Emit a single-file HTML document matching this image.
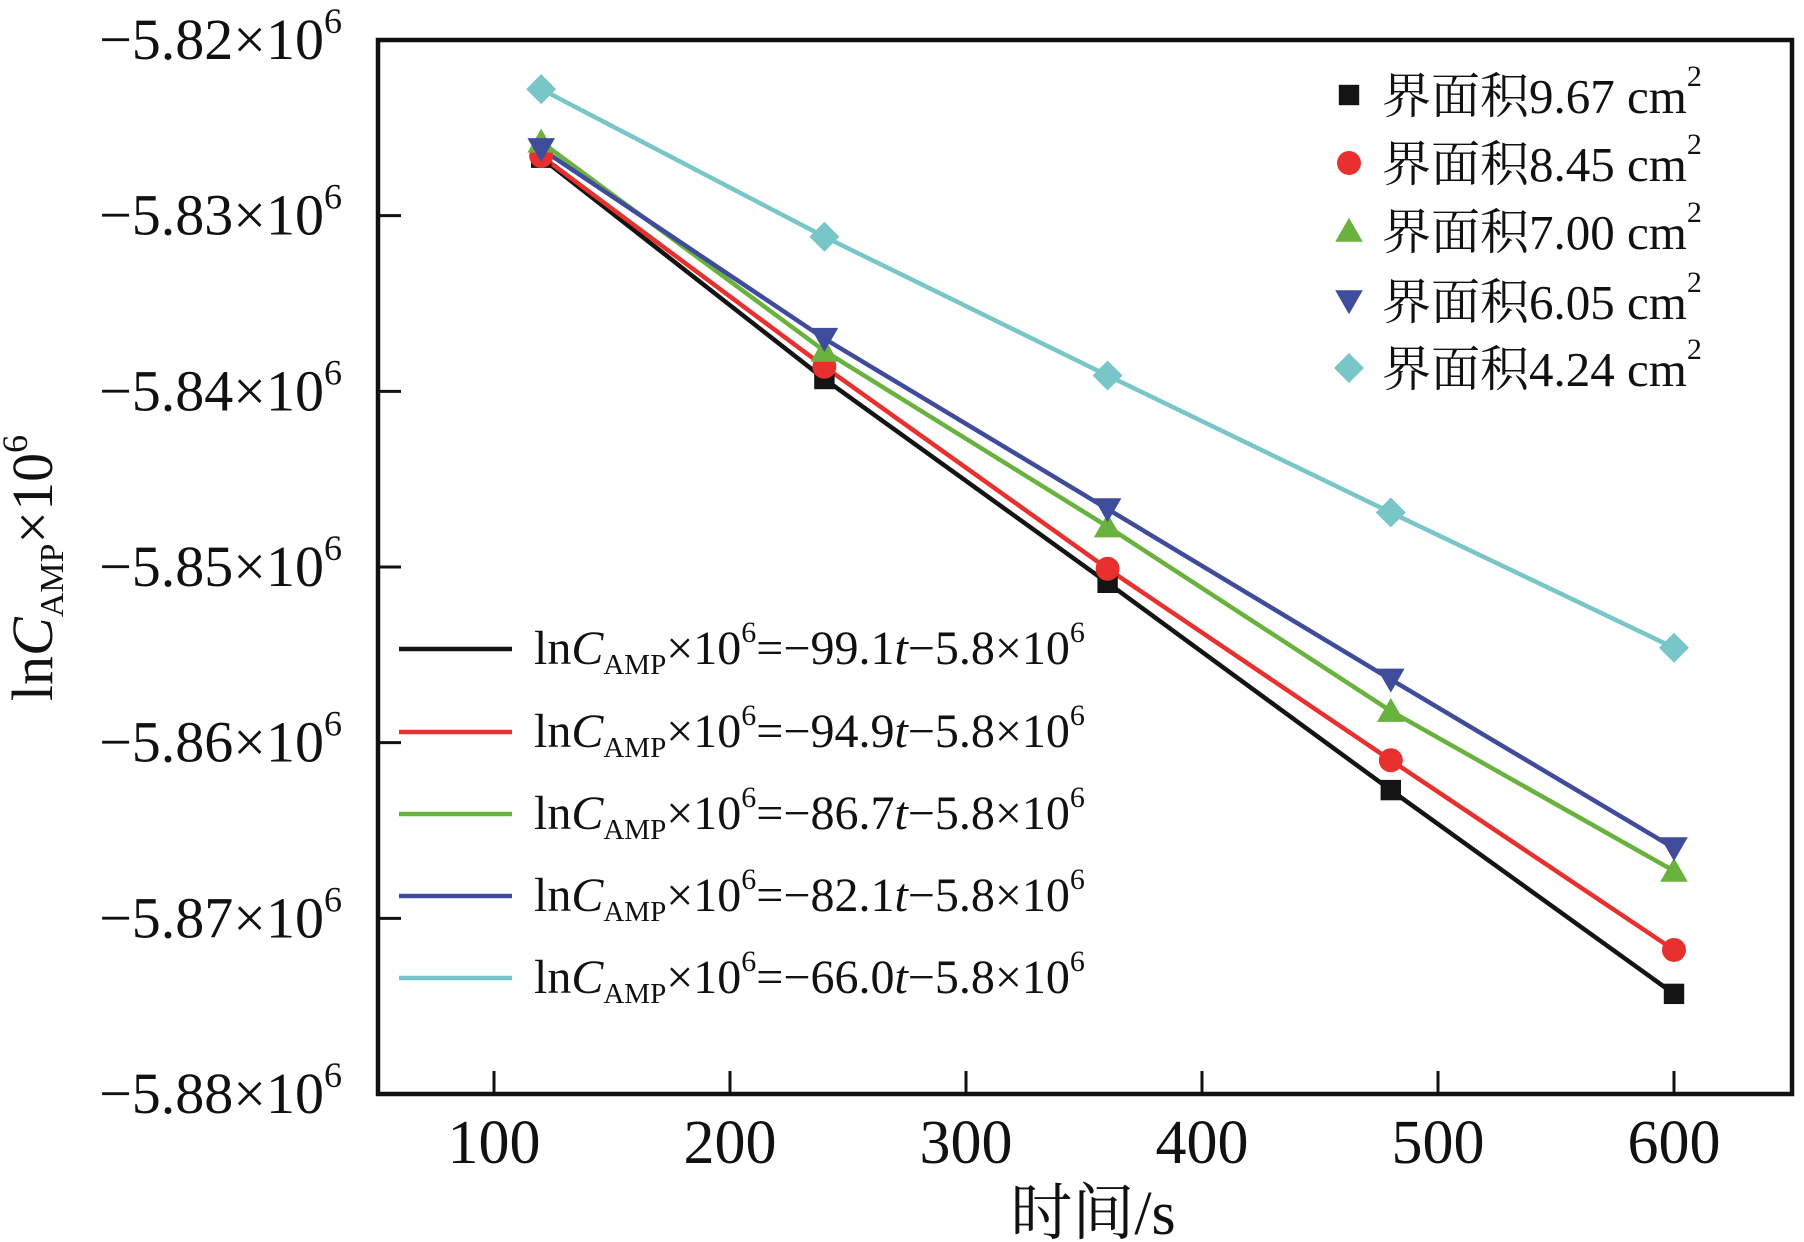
<!DOCTYPE html>
<html><head><meta charset="utf-8"><style>
html,body{margin:0;padding:0;background:#fff;}
svg{display:block;}
text{font-family:"Liberation Serif","Noto Serif CJK SC",serif;fill:#111;}
</style></head><body>
<svg id="chart" width="1804" height="1242" viewBox="0 0 1804 1242" xmlns="http://www.w3.org/2000/svg">
<g id="plot"></g>
</svg>
<script>
const times = [120, 240, 360, 480, 600];
const seriesNames = ["界面积9.67 cm", "界面积8.45 cm", "界面积7.00 cm", "界面积6.05 cm", "界面积4.24 cm"];
const s967 = [-5.8267, -5.8393, -5.8509, -5.8627, -5.8743];
const s845 = [-5.8266, -5.8386, -5.8501, -5.8610, -5.8718];
const s700 = [-5.8258, -5.8377, -5.8477, -5.8582, -5.8673];
const s605 = [-5.8262, -5.8370, -5.8467, -5.8564, -5.8660];
const s424 = [-5.8228, -5.8312, -5.8391, -5.8469, -5.8546];
const slopes = ["99.1", "94.9", "86.7", "82.1", "66.0"];
const xTicks = [100, 200, 300, 400, 500, 600];
const yTicks = [-5.82, -5.83, -5.84, -5.85, -5.86, -5.87, -5.88];

const NS = "http://www.w3.org/2000/svg";
const svg = document.getElementById("plot");
const L = 378, R = 1792, T = 40, B = 1094;
function xs(v){ return 494 + (v - 100) * 2.36; }
function ys(v){ return T + (-5.82 - v) / 0.06 * (B - T); }
function mk(tag, attrs){ const e = document.createElementNS(NS, tag); for (const k in attrs) e.setAttribute(k, attrs[k]); svg.appendChild(e); return e; }

const colors = ["#141414", "#e8312f", "#6ab23e", "#3f4b9b", "#79c6c8"];
const allSeries = [s967, s845, s700, s605, s424];
const shapes = ["square", "circle", "up", "down", "diamond"];

function marker(shape, cx, cy, color, r){
  let e;
  if (shape === "square") e = mk("rect", {x: cx - r*0.85, y: cy - r*0.85, width: r*1.7, height: r*1.7, fill: color});
  else if (shape === "circle") e = mk("circle", {cx: cx, cy: cy, r: r, fill: color});
  else if (shape === "up") e = mk("polygon", {points: `${cx},${cy - r*1.1} ${cx - r*1.15},${cy + r*0.9} ${cx + r*1.15},${cy + r*0.9}`, fill: color});
  else if (shape === "down") e = mk("polygon", {points: `${cx},${cy + r*1.1} ${cx - r*1.15},${cy - r*0.9} ${cx + r*1.15},${cy - r*0.9}`, fill: color});
  else e = mk("polygon", {points: `${cx},${cy - r*1.25} ${cx + r*1.25},${cy} ${cx},${cy + r*1.25} ${cx - r*1.25},${cy}`, fill: color});
  return e;
}

allSeries.forEach((vals, i) => {
  const pts = vals.map((v, j) => xs(times[j]) + "," + ys(v)).join(" ");
  const pl = mk("polyline", {points: pts, fill: "none", stroke: colors[i], "stroke-width": 4.5});
  
  
});
allSeries.forEach((vals, i) => {
  vals.forEach((v, j) => {
    const m = marker(shapes[i], xs(times[j]), ys(v), colors[i], 12);
    
    
  });
});

const fr = mk("rect", {x: L, y: T, width: R - L, height: B - T, fill: "none", stroke: "#111", "stroke-width": 4.5});



xTicks.forEach(v => {
  const x = xs(v);
  const t = mk("line", {x1: x, y1: B, x2: x, y2: B - 23, stroke: "#111", "stroke-width": 3});
  
  
  const lb = mk("text", {x: x, y: 1163, "font-size": 62, "text-anchor": "middle"});
  lb.textContent = v;
  
  
});
yTicks.forEach(v => {
  const y = ys(v);
  const t = mk("line", {x1: L, y1: y, x2: L + 23, y2: y, stroke: "#111", "stroke-width": 3});
  
  
  const lb = mk("text", {x: 342, y: y + 19, "font-size": 58, "text-anchor": "end"});
  lb.innerHTML = "\u2212" + (-v).toFixed(2) + "\u00d710<tspan dy='-26' font-size='36'>6</tspan>";
  
  
});

const xt = mk("text", {x: 1093, y: 1234, "font-size": 62, "text-anchor": "middle"});
xt.textContent = "时间/s";


const yt = mk("text", {x: 0, y: 0, "font-size": 58, "text-anchor": "middle", transform: "translate(52,568) rotate(-90)"});
yt.innerHTML = "ln<tspan font-style='italic'>C</tspan><tspan font-size='34' dy='11'>AMP</tspan><tspan dy='-11'>×10</tspan><tspan dy='-25' font-size='36'>6</tspan>";



const legY = [95, 163, 231, 301, 368];
seriesNames.forEach((n, i) => {
  const m = marker(shapes[i], 1349, legY[i], colors[i], 12);
  
  
  const t = mk("text", {x: 1382, y: legY[i] + 18, "font-size": 49});
  t.innerHTML = n + "<tspan dy='-27' font-size='30'>2</tspan>";
  
  
});

const eqY = [649, 732, 814, 896, 978];
slopes.forEach((s, i) => {
  const l = mk("line", {x1: 399, y1: eqY[i], x2: 512, y2: eqY[i], stroke: colors[i], "stroke-width": 4.5});
  
  
  const t = mk("text", {x: 534, y: eqY[i] + 15, "font-size": 48});
  t.innerHTML = "ln<tspan font-style='italic'>C</tspan><tspan font-size='29' dy='10'>AMP</tspan><tspan dy='-10'>×10</tspan><tspan dy='-22' font-size='30'>6</tspan><tspan dy='22'>=\u2212" + s + "</tspan><tspan font-style='italic'>t</tspan>\u22125.8×10<tspan dy='-22' font-size='30'>6</tspan>";
  
  
});
</script>
</body></html>
